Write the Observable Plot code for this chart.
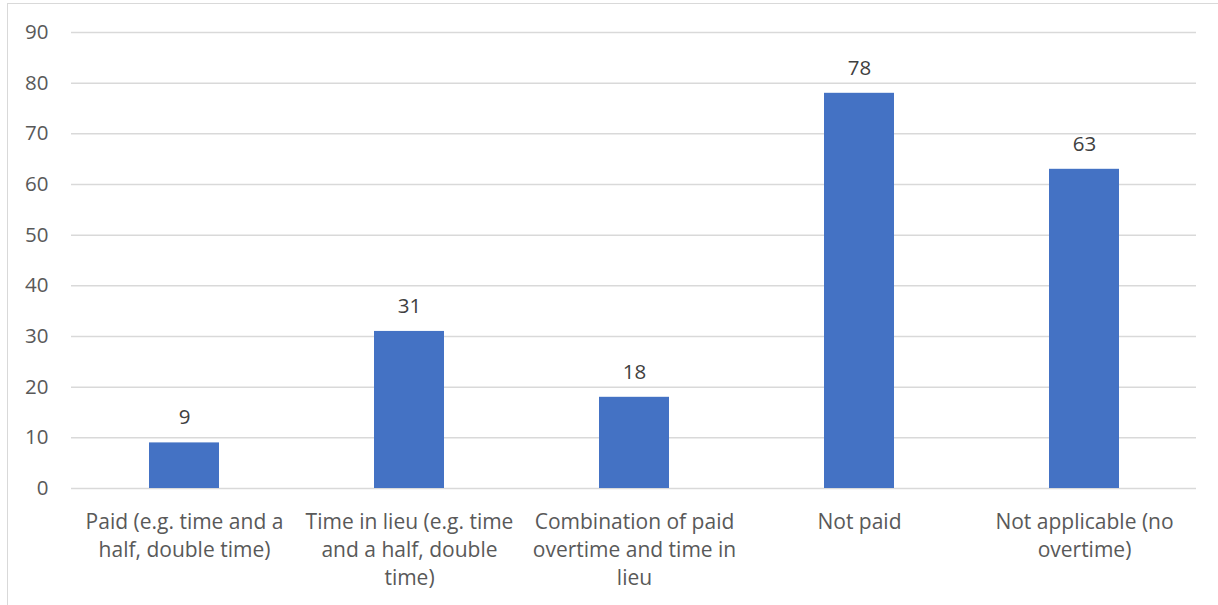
<!DOCTYPE html>
<html>
<head>
<meta charset="utf-8">
<script src="https://cdn.jsdelivr.net/npm/d3@7"></script>
<script src="https://cdn.jsdelivr.net/npm/@observablehq/plot@0.6"></script>
<style>
  html, body { margin: 0; padding: 0; background: #fff; overflow: hidden; }
  #wrap { position: relative; width: 1218px; height: 605px; }
  #frame { position: absolute; left: 7px; top: 3px; width: 1300px; height: 700px; border: 1.5px solid #d9d9d9; box-sizing: border-box; pointer-events: none; }
  svg { display: block; }
</style>
</head>
<body>
<div id="wrap"><div id="frame"></div></div>
<script>
const categories = [
  "Paid (e.g. time and a\nhalf, double time)",
  "Time in lieu (e.g. time\nand a half, double\ntime)",
  "Combination of paid\novertime and time in\nlieu",
  "Not paid",
  "Not applicable (no\novertime)"
];
const values = [9, 31, 18, 78, 63];
const yTicks = [0, 10, 20, 30, 40, 50, 60, 70, 80, 90];

const data = categories.map((c, i) => ({category: c, value: values[i]}));
const font = "'Open Sans', Lato, sans-serif";

const chart = Plot.plot({
  width: 1218,
  height: 605,
  marginLeft: 71,
  marginRight: 22,
  marginTop: 32,
  marginBottom: 117,
  style: {fontFamily: font, fontSize: "21px", color: "#595959", background: "transparent"},
  x: {domain: categories, paddingInner: 0.69, paddingOuter: 0.345, label: null, tickSize: 0},
  y: {domain: [0, 90], ticks: yTicks, label: null, tickSize: 0},
  marks: [
    Plot.gridY(yTicks, {stroke: "#d9d9d9", strokeOpacity: 1, strokeWidth: 1.5}),
    Plot.axisY(yTicks, {tickSize: 0, tickPadding: 23, fontSize: 20.5, fill: "#595959", label: null}),
    Plot.axisX({tickSize: 0, tickPadding: 21, fontSize: 21, fill: "#595959", lineHeight: 1.32, label: null, lineAnchor: "top"}),
    Plot.barY(data, {x: "category", y: "value", fill: "#4472C4"}),
    Plot.text(data, {x: "category", y: "value", text: d => String(d.value), dy: -25, fontSize: 20.5, fill: "#404040"})
  ]
});
document.getElementById("wrap").prepend(chart);
</script>
</body>
</html>
